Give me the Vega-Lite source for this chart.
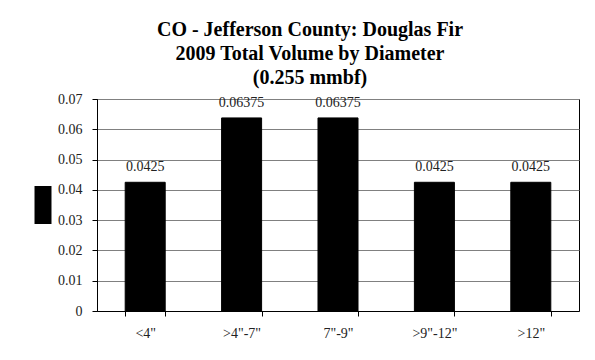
{
  "$schema": "https://vega.github.io/schema/vega-lite/v6.json",
  "autosize": {"type": "none"},
  "width": 482,
  "height": 212,
  "padding": {"left": 97, "top": 99, "right": 16, "bottom": 49},
  "background": "white",
  "title": {
    "text": ["CO - Jefferson County: Douglas Fir", "2009 Total Volume by Diameter", "(0.255 mmbf)"],
    "font": "Liberation Serif",
    "fontSize": 20,
    "fontWeight": "bold",
    "lineHeight": 24,
    "color": "black",
    "anchor": "middle",
    "frame": "group",
    "dx": -28,
    "offset": 4
  },
  "data": {
    "values": [
      {"diameter": "<4\"", "volume": 0.0425, "series": "Volume"},
      {"diameter": ">4\"-7\"", "volume": 0.06375, "series": "Volume"},
      {"diameter": "7\"-9\"", "volume": 0.06375, "series": "Volume"},
      {"diameter": ">9\"-12\"", "volume": 0.0425, "series": "Volume"},
      {"diameter": ">12\"", "volume": 0.0425, "series": "Volume"}
    ]
  },
  "config": {
    "view": {"stroke": "black", "strokeWidth": 1},
    "font": "Liberation Serif"
  },
  "encoding": {
    "x": {
      "field": "diameter",
      "type": "nominal",
      "sort": null,
      "title": null,
      "scale": {"paddingInner": 0.585, "paddingOuter": 0.2925},
      "axis": {
        "labelAngle": 0,
        "labelFont": "Liberation Serif",
        "labelFontSize": 14,
        "labelColor": "#222222",
        "labelPadding": 10,
        "tickBand": "extent",
        "tickSize": 5,
        "tickColor": "black",
        "domainColor": "black",
        "grid": false
      }
    },
    "y": {
      "field": "volume",
      "type": "quantitative",
      "title": null,
      "scale": {"domain": [0, 0.07], "nice": false},
      "axis": {
        "values": [0, 0.01, 0.02, 0.03, 0.04, 0.05, 0.06, 0.07],
        "format": ".2~f",
        "labelOverlap": false,
        "labelFont": "Liberation Serif",
        "labelFontSize": 14,
        "labelColor": "#222222",
        "labelPadding": 10,
        "tickSize": 5,
        "tickColor": "black",
        "domainColor": "black",
        "grid": true,
        "gridColor": "#808080",
        "gridOpacity": 1,
        "gridWidth": 1
      }
    }
  },
  "layer": [
    {
      "mark": {"type": "bar", "stroke": "black", "strokeWidth": 1},
      "encoding": {
        "color": {
          "field": "series",
          "type": "nominal",
          "scale": {"range": ["#000000"]},
          "legend": {
            "title": null,
            "orient": "none",
            "legendX": -73,
            "legendY": 87,
            "padding": 0,
            "symbolType": "M-0.447,-1L0.447,-1L0.447,1L-0.447,1Z",
            "symbolSize": 1444,
            "symbolFillColor": "black",
            "symbolStrokeWidth": 0,
            "symbolOpacity": 1,
            "labelExpr": "''",
            "labelFontSize": 1
          }
        }
      }
    },
    {
      "mark": {"type": "text", "baseline": "alphabetic", "dy": -11, "font": "Liberation Serif", "fontSize": 14, "color": "#222222"},
      "encoding": {
        "text": {"field": "volume", "type": "nominal"}
      }
    }
  ]
}
